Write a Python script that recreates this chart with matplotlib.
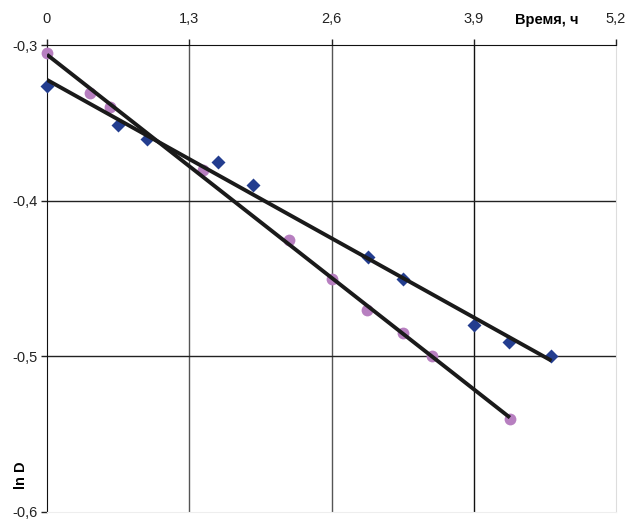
import numpy as np
import matplotlib
matplotlib.use('Agg')
import matplotlib.pyplot as plt
from matplotlib.ticker import FuncFormatter

plt.rcParams['font.family'] = ['Liberation Sans', 'DejaVu Sans']

# purple circles
t_circ = [0.0, 0.39, 0.58, 1.43, 2.21, 2.60, 2.92, 3.25, 3.52, 4.23]
lnd_circ = [-0.305, -0.331, -0.340, -0.380, -0.425, -0.450, -0.470, -0.485, -0.500, -0.540]

# blue diamonds
t_diam = [0.0, 0.65, 0.91, 1.56, 1.88, 2.93, 3.25, 3.90, 4.22, 4.61]
lnd_diam = [-0.326, -0.351, -0.360, -0.375, -0.390, -0.436, -0.450, -0.480, -0.491, -0.500]

x_ticks = [0, 1.3, 2.6, 3.9, 5.2]
y_ticks = [-0.3, -0.4, -0.5, -0.6]


def comma(v, pos):
    s = ('%g' % round(v, 2)).replace('.', ',')
    return s


fig = plt.figure(figsize=(6.28, 5.19), dpi=100)
ax = fig.add_axes([0.0748, 0.0135, 0.9062, 0.8995])

ax.set_xlim(0, 5.2)
ax.set_ylim(-0.6, -0.3)

# grid
for xv in x_ticks[1:-1]:
    ax.axvline(xv, color='#555555' if xv < 3.9 else '#111111', lw=1.0, zorder=1)
for yv in y_ticks[1:-1]:
    ax.axhline(yv, color='#222222', lw=1.0, zorder=1)

# trend lines
for t, v in [(t_circ, lnd_circ), (t_diam, lnd_diam)]:
    k, b = np.polyfit(t, v, 1)
    xx = np.array([min(t), max(t)])
    ax.plot(xx, k * xx + b, color='#1a1a1a', lw=2.8, zorder=4, solid_capstyle='butt')

ax.plot(t_circ, lnd_circ, 'o', color='#b77fc0', markersize=8.5, mec='none', zorder=3, clip_on=False)
ax.plot(t_diam, lnd_diam, 'D', color='#233d8f', markersize=7, mec='none', zorder=3, clip_on=False)

ax.xaxis.tick_top()
ax.set_xticks(x_ticks)
ax.set_yticks(y_ticks)
ax.xaxis.set_major_formatter(FuncFormatter(comma))
ax.yaxis.set_major_formatter(FuncFormatter(comma))
ax.tick_params(axis='x', direction='out', length=4, width=1, pad=10, labelsize=10.5, colors='#222222')
ax.tick_params(axis='y', direction='out', length=4, width=1, pad=3, labelsize=10.5, colors='#222222')

ax.spines['top'].set_color('#111111')
ax.spines['left'].set_color('#111111')
ax.spines['right'].set_color('#dddddd')
ax.spines['bottom'].set_color('#eeeeee')

fig.text(0.870, 0.962, 'Время, ч', ha='center', va='center', fontsize=10.5, fontweight='bold')
fig.text(0.034, 0.085, 'ln D', ha='center', va='center', rotation=90, fontsize=10.5, fontweight='bold')

fig.savefig('out.png', dpi=100)
